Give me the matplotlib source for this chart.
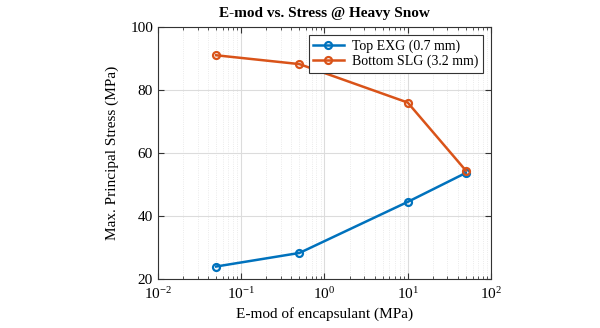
import numpy as np
import matplotlib
matplotlib.use('Agg')
import matplotlib.pyplot as plt
from matplotlib.ticker import LogLocator, NullFormatter

# Data
emod = [0.05, 0.5, 10, 50]
stress_top = [24.0, 28.3, 44.5, 53.7]
stress_bottom = [91.0, 88.2, 76.0, 54.4]

plt.rcParams['font.family'] = ['Liberation Serif', 'DejaVu Serif']
plt.rcParams['mathtext.fontset'] = 'stix'

fig = plt.figure(figsize=(6, 3.28), dpi=100)
ax = fig.add_axes([0.2633, 0.149, 0.555, 0.769])

ax.plot(emod, stress_top, '-o', color='#0072BD', lw=1.8, ms=5,
        mfc='none', mew=1.6, label='Top EXG (0.7 mm)')
ax.plot(emod, stress_bottom, '-o', color='#D95319', lw=1.8, ms=5,
        mfc='none', mew=1.6, label='Bottom SLG (3.2 mm)')

ax.set_xscale('log')
ax.set_xlim(1e-2, 1e2)
ax.set_ylim(20, 100)
ax.set_yticks([20, 40, 60, 80, 100])
ax.xaxis.set_minor_locator(LogLocator(base=10, subs=np.arange(2, 10), numticks=20))
ax.xaxis.set_minor_formatter(NullFormatter())

ax.grid(True, which='major', color='#dcdcdc', lw=0.8)
ax.grid(True, which='minor', axis='x', color='#e4e4e4', lw=0.6, ls=':')
ax.set_axisbelow(True)

ax.tick_params(which='both', direction='in', top=True, right=True,
               labelsize=11, color='#333333')
ax.tick_params(which='major', length=4)
ax.tick_params(which='minor', length=2)
ax.tick_params(axis='x', which='major', pad=5)
for s in ax.spines.values():
    s.set_color('#333333')
    s.set_linewidth(0.8)

ax.set_xlabel('E-mod of encapsulant (MPa)', fontsize=11, labelpad=4)
ax.set_ylabel('Max. Principal Stress (MPa)', fontsize=11, labelpad=8)
ax.set_title('E-mod vs. Stress @ Heavy Snow', fontsize=11, fontweight='bold', pad=7)

leg = ax.legend(loc='upper right', fontsize=10, fancybox=False, framealpha=1,
                edgecolor='#333333', borderpad=0.3, labelspacing=0.15,
                handlelength=2.2, handletextpad=0.6, borderaxespad=0.6)
leg.get_frame().set_linewidth(0.8)

fig.savefig('out.png', dpi=100)
